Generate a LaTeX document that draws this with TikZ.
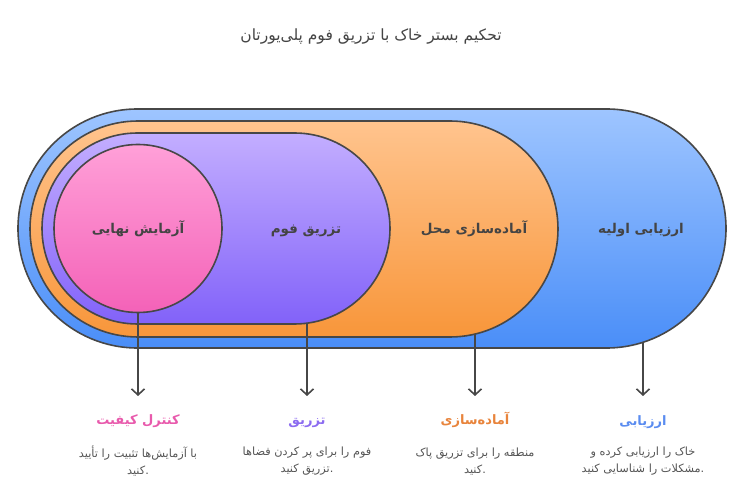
\documentclass[tikz,border=0pt]{standalone}
\usepackage{fontspec}
\setmainfont{DejaVu Sans}
\newfontfamily\af[Script=Arabic]{DejaVu Sans}
\TeXXeTstate=1
\usetikzlibrary{arrows.meta}
\definecolor{edge}{HTML}{474747}
\definecolor{blueT}{HTML}{9EC5FF}
\definecolor{blueB}{HTML}{4A8EF8}
\definecolor{orT}{HTML}{FFC48E}
\definecolor{orB}{HTML}{F8963A}
\definecolor{puT}{HTML}{C3AEFF}
\definecolor{puB}{HTML}{8262F9}
\definecolor{piT}{HTML}{FFA0D8}
\definecolor{piB}{HTML}{F462B8}
\definecolor{txt}{HTML}{444444}
\definecolor{dsc}{HTML}{555555}
\definecolor{hpink}{HTML}{E85AAC}
\definecolor{hpurple}{HTML}{8C6CF0}
\definecolor{horange}{HTML}{E8843C}
\definecolor{hblue}{HTML}{5A8CF0}
\begin{document}
\begin{tikzpicture}[x=1pt,y=-1pt,
  stad/.style={draw=edge, line width=1.6pt, inner sep=0pt, outer sep=0pt, rectangle},
  lbl/.style={font=\af\bfseries\fontsize{13.5}{16}\selectfont, text=txt, inner sep=0pt, text height=9pt, text depth=4pt},
  head/.style={font=\af\bfseries\fontsize{13}{15}\selectfont, inner sep=0pt, text height=9pt, text depth=4pt},
  desc/.style={font=\af\fontsize{11.3}{17}\selectfont, text=dsc, align=center, inner sep=0pt},
  arr/.style={draw=edge, line width=1.6pt, -{Straight Barb[length=6pt,width=13pt,line width=1.6pt]}}]
\useasboundingbox (0,0) rectangle (745,494);
\node[font=\af\fontsize{15.5}{18}\selectfont, text=txt] (title) at (371,37) {\beginR تحکیم بستر خاک با تزریق فوم پلی‌یورتان\endR};
\node[stad, top color=blueT, bottom color=blueB, minimum width=708pt, minimum height=239pt, rounded corners=119.5pt] (blue) at (372,228.5) {};
\node[stad, top color=orT, bottom color=orB, minimum width=528pt, minimum height=216pt, rounded corners=108pt] (orange) at (294,229) {};
\node[stad, top color=puT, bottom color=puB, minimum width=348pt, minimum height=191pt, rounded corners=95.5pt] (purple) at (216,228.5) {};
\node[stad, circle, top color=piT, bottom color=piB, minimum size=168pt] (pink) at (138,228.5) {};
\node[lbl] (t1) at (641,231) {\beginR ارزیابی اولیه\endR};
\node[lbl] (t2) at (474,231) {\beginR آماده‌سازی محل\endR};
\node[lbl] (t3) at (306,231) {\beginR تزریق فوم\endR};
\node[lbl] (t4) at (138,231) {\beginR آزمایش نهایی\endR};
\coordinate (s1) at (643,342.3);
\coordinate (s2) at (475,333.6);
\coordinate (s3) at (307,323.2);
\coordinate (e1) at (643,396);
\coordinate (e2) at (475,396);
\coordinate (e3) at (307,396);
\coordinate (e4) at (138,396);
\draw[arr] (s1) -- (e1);
\draw[arr] (s2) -- (e2);
\draw[arr] (s3) -- (e3);
\draw[arr] (pink.south) -- (e4);
\node[head, text=hblue] (h1) at (643,423) {\beginR ارزیابی\endR};
\node[head, text=horange] (h2) at (475,422.5) {\beginR آماده‌سازی\endR};
\node[head, text=hpurple] (h3) at (307,422.5) {\beginR تزریق\endR};
\node[head, text=hpink] (h4) at (138,422.5) {\beginR کنترل کیفیت\endR};
\node[desc] (d1) at (643,461.5) {\beginR خاک را ارزیابی کرده و\endR\\\beginR مشکلات را شناسایی کنید\endR.};
\node[desc] (d2) at (475,461.5) {\beginR منطقه را برای تزریق پاک\endR\\\beginR کنید\endR.};
\node[desc] (d3) at (307,461.5) {\beginR فوم را برای پر کردن فضاها\endR\\\beginR تزریق کنید\endR.};
\node[desc] (d4) at (138,461.5) {\beginR با آزمایش‌ها تثبیت را تأیید\endR\\\beginR کنید\endR.};
\end{tikzpicture}
\end{document}
